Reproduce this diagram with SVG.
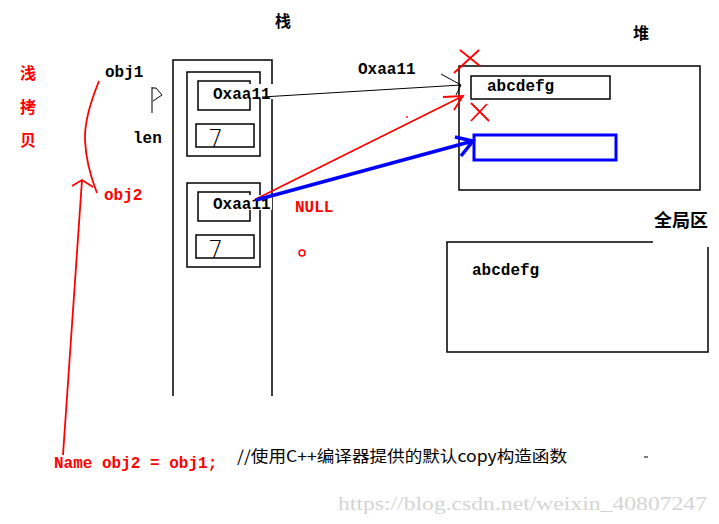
<svg xmlns="http://www.w3.org/2000/svg" width="719" height="524" viewBox="0 0 719 524">
<style>
.ln{fill:none;stroke:#000;stroke-width:1.5}
.mono{font-family:"Liberation Mono","DejaVu Sans Mono",monospace;font-size:16px;font-weight:bold;fill:#000}
.cjk{font-family:"Noto Sans CJK SC","DejaVu Sans",sans-serif;font-weight:bold;fill:#000}
.red{fill:#f00}
.seven{font-family:"DejaVu Sans","Liberation Sans",sans-serif;font-weight:200;font-size:24px;fill:#000}
.rl{fill:none;stroke:#f00;stroke-width:1.8}
.bl{fill:none;stroke:#00f;stroke-width:3.5}
</style>
<rect width="719" height="524" fill="#fff"/>
<g id="title-stack"><text class="cjk" x="275" y="27" font-size="16">栈</text></g>
<g id="title-heap"><text class="cjk" x="633" y="39" font-size="16">堆</text></g>
<g id="title-global"><text class="cjk" x="654" y="227" font-size="18">全局区</text></g>
<g id="shallow-copy">
<text class="cjk red" x="20" y="79" font-size="16">浅</text>
<text class="cjk red" x="20" y="113" font-size="16">拷</text>
<text class="cjk red" x="20" y="146" font-size="16">贝</text>
</g>
<g id="labels">
<text class="mono" x="105" y="77">obj1</text>
<text class="mono red" x="104" y="200">obj2</text>
<text class="mono" x="133" y="143">len</text>
<path d="M152,87 V113 M152,88 H156 L162,95 L153,101" fill="none" stroke="#000" stroke-width="1"/>
<text class="mono" x="358" y="74" font-weight="normal">Oxaa11</text>
<text class="mono red" x="295" y="212">NULL</text>
<circle cx="302" cy="253" r="3" fill="none" stroke="#f00" stroke-width="1.5"/>
<circle cx="407" cy="117" r="0.9" fill="#f00"/>
<line x1="644" y1="457" x2="648" y2="457" stroke="#000" stroke-width="1"/>
</g>
<g id="stack">
<path class="ln" d="M173,396 V60 H272 V396"/>
<rect class="ln" x="187" y="72" width="73" height="84"/>
<rect class="ln" x="198" y="81" width="52" height="29"/>
<rect class="ln" x="196" y="124" width="58" height="23"/>
<rect x="210" y="84" width="64" height="15" fill="#fff"/>
<text class="mono" x="213" y="99">Oxaa11</text>
<text class="seven" x="208" y="147">7</text>
<rect class="ln" x="187" y="183" width="73" height="84"/>
<rect class="ln" x="198" y="192" width="52" height="29"/>
<rect class="ln" x="196" y="235" width="58" height="23"/>
<rect x="210" y="195" width="62" height="15" fill="#fff"/>
<text class="mono" x="213" y="209">Oxaa11</text>
<text class="seven" x="208" y="258">7</text>
</g>
<g id="heap">
<rect class="ln" x="459" y="66" width="241" height="124"/>
<rect class="ln" x="471" y="76" width="139" height="23"/>
<text class="mono" x="487" y="91">abcdefg</text>
<rect x="474" y="135" width="142" height="25" fill="none" stroke="#00f" stroke-width="3"/>
</g>
<g id="global">
<path class="ln" d="M653,242 H447 V352 H708 V247"/>
<text class="mono" x="472" y="275">abcdefg</text>
</g>
<g id="connectors">
<path d="M262,97 L461,85 M441,74 L461,85 L456,95" fill="none" stroke="#000" stroke-width="1"/>
<path class="rl" d="M256,199 L463,96 M443,97 L463,96 L454,110"/>
<path class="bl" d="M256,200 L473,141 M455,137 L473,141 L461,156"/>
<path class="rl" d="M460,50 L480,66 M479,50 L454,73"/>
<path class="rl" d="M471,103 L489,121 M487,104 L471,121"/>
<path class="rl" d="M99,81 Q84,118 85,140 Q86,165 97,193"/>
<path class="rl" d="M63,455 L82,180 M72,186 L82,180 L93,187"/>
</g>
<g id="code">
<text class="mono red" x="54" y="468">Name obj2 = obj1;</text>
<text x="237" y="462" font-family="Noto Sans CJK SC,DejaVu Sans,sans-serif" font-size="16" textLength="330" lengthAdjust="spacingAndGlyphs" fill="#000">//使用C++编译器提供的默认copy构造函数</text>
</g>
<g id="watermark">
<text x="338" y="510" font-family="Liberation Serif,serif" font-size="19" textLength="369" lengthAdjust="spacingAndGlyphs" fill="#d4d4d4">https://blog.csdn.net/weixin_40807247</text>
</g>
</svg>
